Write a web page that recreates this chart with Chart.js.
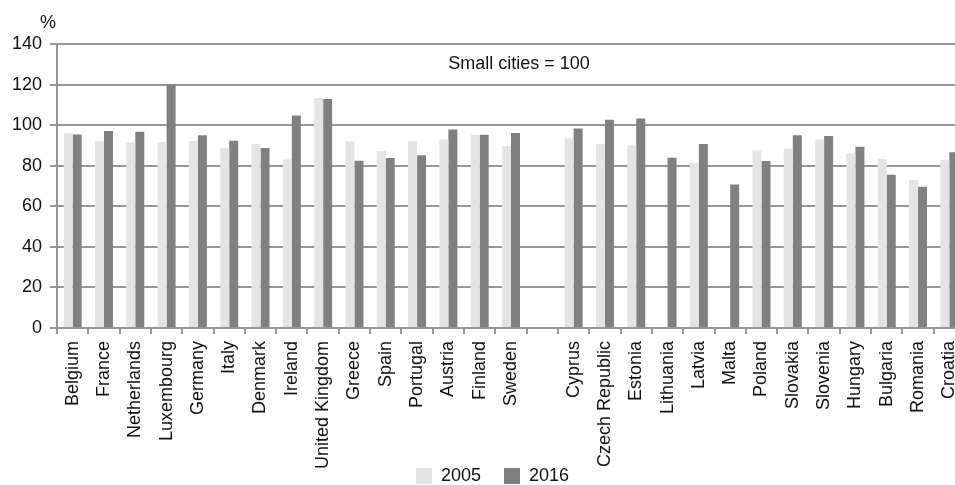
<!DOCTYPE html>
<html>
<head>
<meta charset="utf-8">
<script src="https://cdn.jsdelivr.net/npm/chart.js@4"></script>
<style>
  html, body { margin: 0; padding: 0; background: #fff; overflow: hidden; }
  #wrap { width: 955px; height: 485px; overflow: hidden; position: relative; }
  canvas { display: block; }
</style>
</head>
<body>
<div id="wrap"><canvas id="myChart" width="970" height="485"></canvas></div>
<script>
const countries = ['Belgium', 'France', 'Netherlands', 'Luxembourg', 'Germany', 'Italy', 'Denmark',
    'Ireland', 'United Kingdom', 'Greece', 'Spain', 'Portugal', 'Austria', 'Finland', 'Sweden', '',
    'Cyprus', 'Czech Republic', 'Estonia', 'Lithuania', 'Latvia', 'Malta', 'Poland', 'Slovakia',
    'Slovenia', 'Hungary', 'Bulgaria', 'Romania', 'Croatia'];

// index relative to small cities (= 100)
const values2005 = [96.0, 92.2, 91.5, 91.7, 92.2, 88.9, 90.7, 83.1, 113.4, 92.0, 87.2, 92.0, 93.0, 95.1, 89.7, null,
    93.6, 90.7, 90.0, null, 81.3, null, 87.6, 88.4, 93.1, 86.2, 83.3, 72.9, 82.9];
const values2016 = [95.4, 97.1, 96.8, 120.1, 95.0, 92.3, 88.7, 104.8, 112.9, 82.5, 83.8, 85.1, 97.8, 95.3, 96.1, null,
    98.4, 102.7, 103.3, 83.9, 90.7, 70.8, 82.3, 95.0, 94.6, 89.4, 75.6, 69.6, 86.6];

const yTicks = [0, 20, 40, 60, 80, 100, 120, 140];

const gridColor = '#969696';
const font = { family: 'Arial, "Liberation Sans", sans-serif', size: 18 };

// extra text: the "%" unit and the base note
const notes = {
    id: 'notes',
    afterLayout(chart) {
        // let the long country names run down past the legend row
        chart.scales.x.bottom = chart.height;
        const leg = chart.legend;
        leg.top += 10; leg.bottom += 10;
        leg.left += 10; leg.right += 10;
    },
    afterDraw(chart) {
        const c = chart.ctx;
        const y = chart.scales.y;
        c.save();
        c.fillStyle = '#111';
        c.font = '18px Arial, "Liberation Sans", sans-serif';
        c.textAlign = 'center';
        c.textBaseline = 'middle';
        c.fillText('%', 48, 23);
        c.fillText('Small cities = 100', 519, y.getPixelForValue(130));
        c.restore();
    }
};

const ctx = document.getElementById('myChart').getContext('2d');
new Chart(ctx, {
    type: 'bar',
    data: {
        labels: countries,
        datasets: [{
            label: '2005',
            data: values2005,
            backgroundColor: '#e4e4e2',
            barPercentage: 1,
            categoryPercentage: 0.575
        }, {
            label: '2016',
            data: values2016,
            backgroundColor: '#808080',
            barPercentage: 1,
            categoryPercentage: 0.575
        }]
    },
    options: {
        responsive: false,
        animation: false,
        layout: { padding: { top: 44, right: 5, left: 0, bottom: 0 } },
        scales: {
            x: {
                grid: { display: true, drawOnChartArea: false, drawTicks: true, tickLength: 6, color: gridColor, lineWidth: 2 },
                border: { display: false },
                ticks: { autoSkip: false, minRotation: 90, maxRotation: 90, padding: 7, color: '#111', font: font },
                afterFit(s) {
                    const leg = s.chart.legend ? s.chart.legend.height : 0;
                    s.height = s.chart.height - 328 - leg;
                    s.paddingLeft = 0;
                    s.paddingRight = 0;
                }
            },
            y: {
                min: 0,
                max: 140,
                afterBuildTicks(s) { s.ticks = yTicks.map(v => ({ value: v })); },
                grid: { color: gridColor, lineWidth: 2, tickLength: 7 },
                border: { display: true, color: gridColor, width: 2 },
                ticks: { padding: 8, color: '#111', font: font },
                afterFit(s) { s.width = 57; }
            }
        },
        plugins: {
            legend: {
                position: 'bottom',
                labels: { boxWidth: 16, boxHeight: 16, padding: 23, color: '#111', font: font }
            },
            tooltip: { enabled: false }
        }
    },
    plugins: [notes]
});
</script>
</body>
</html>
